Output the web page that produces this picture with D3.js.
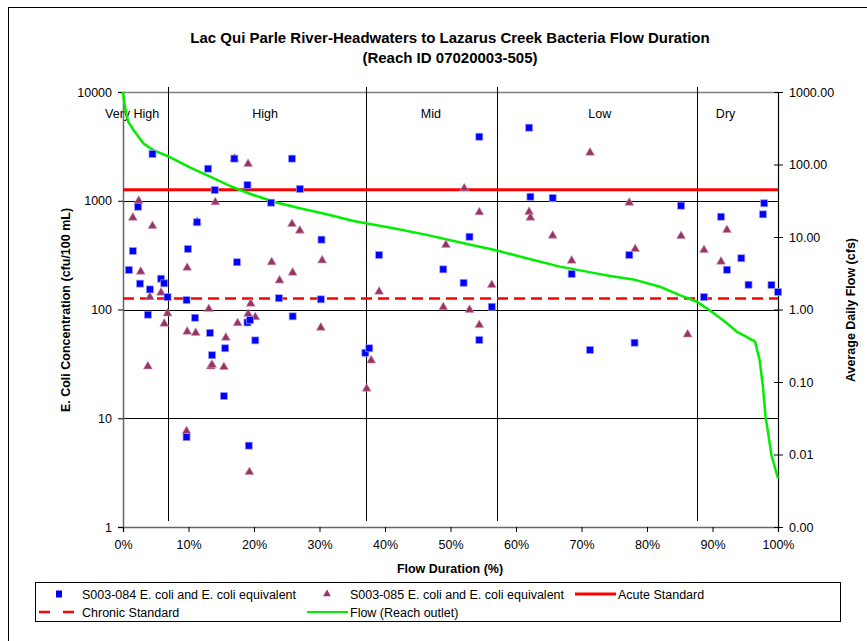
<!DOCTYPE html>
<html><head><meta charset="utf-8">
<script src="https://cdn.jsdelivr.net/npm/d3@7"></script>
<style>
body{margin:0;background:#fff;}
svg text{font-family:"Liberation Sans",Arial,sans-serif;fill:#000;}
</style></head>
<body><svg id="chart" width="867" height="641"></svg>
<script>
// ---------- DATA ----------
const titleLines = ["Lac Qui Parle River-Headwaters to Lazarus Creek Bacteria Flow Duration", "(Reach ID 07020003-505)"];
const leftTicks = [1, 10, 100, 1000, 10000];
const rightTicks = [0.001, 0.01, 0.1, 1, 10, 100, 1000];
const xTicks = [0, 10, 20, 30, 40, 50, 60, 70, 80, 90, 100];
const zoneBounds = [6.8, 37.1, 57.1, 87.6];
const zoneNames = ["Very High", "High", "Mid", "Low", "Dry"];
const zoneLabelAt = [1.4, 21.7, 47.0, 72.8, 92.0];
const acuteStd = 1260;
const chronicStd = 126;

// S003-084 [flow duration %, E. coli cfu/100mL]
const site084 = [
 [0.9,231],[1.5,345],[2.3,881],[2.6,173],[3.8,89.6],[4.1,153],[4.5,2690],[5.8,192],[6.3,174],[6.8,130],
 [9.7,122],[9.7,6.7],[9.9,360],[11.0,84],[11.3,634],[13.0,1972],[13.3,61],[13.6,38],[14.0,1256],[15.4,16],
 [15.6,44],[17.0,2440],[17.4,272],[19.0,1396],[19.0,76],[19.2,5.6],[19.4,80],[20.2,52],[22.6,960],[23.8,127],
 [25.8,2440],[25.9,86.5],[27.0,1282],[30.2,124],[30.3,439],[37.0,40],[37.6,44],[39.1,317],[48.9,234],[52.0,176],
 [52.9,467],[54.4,3880],[54.4,52.5],[56.3,106],[62.0,4700],[62.2,1089],[65.6,1060],[68.5,212],[71.3,42.5],[77.3,317],
 [78.1,49.5],[85.2,901],[88.7,130],[91.3,713],[92.2,232],[94.4,296],[95.5,169],[97.7,750],[97.9,948],[99.0,168],[100,145]
];
// S003-085 [flow duration %, E. coli cfu/100mL]
const site085 = [
 [1.5,698],[2.4,1000],[2.7,223],[3.8,30],[4.1,130],[4.5,586],[5.8,143],[6.3,74],[6.8,92],[9.7,7.6],
 [9.8,242],[9.8,62.5],[11.1,61],[11.3,641],[13.1,101],[13.4,30],[13.6,31],[14.1,968],[15.4,29.6],[15.7,55],
 [17.0,2440],[17.5,75],[19.1,2180],[19.1,91],[19.3,3.2],[19.5,113],[20.2,85],[22.7,272],[23.9,185],[25.8,611],
 [25.9,218],[27.0,531],[30.2,68],[30.4,283],[37.2,18.7],[37.9,34],[39.1,146],[48.9,105],[49.3,392],[52.1,1300],
 [52.9,99],[54.4,783],[54.4,72],[56.3,168],[62.0,790],[62.2,698],[65.6,477],[68.5,281],[71.3,2770],[77.3,959],
 [78.2,360],[85.2,474],[86.2,59],[88.7,352],[91.3,275],[92.2,538]
];
// Flow (Reach outlet) [flow duration %, cfs]
const flow = [
 [0,1000],[0.2,700],[0.5,508],[0.8,389],[1.6,299],[3.1,196],[4.6,158],[6.8,131],[10.2,91],[13.3,68],
 [16.8,48.5],[19.9,38],[23.0,30.7],[27.0,24.9],[31.1,20.6],[35.2,16.6],[37.7,15.1],[41.3,13.2],[46.4,10.7],[51.5,8.4],
 [57.1,6.5],[61.6,5.1],[66.7,3.9],[71.8,3.2],[74.4,2.9],[77.9,2.6],[82.0,2.06],[85.0,1.58],[87.6,1.28],[90.1,0.90],
 [92.2,0.645],[93.7,0.494],[95.2,0.42],[96.5,0.36],[97.2,0.20],[97.7,0.086],[98.1,0.033],[98.5,0.0196],[99.0,0.0098],[100,0.0047]
];

// ---------- CHART ----------
const svg = d3.select("#chart");
const L = 123, R = 778, T = 92, B = 527;
const x = d3.scaleLinear().domain([0, 100]).range([L, R]);
const y = d3.scaleLog().domain([1, 10000]).range([B, T]);
const y2 = d3.scaleLog().domain([0.001, 1000]).range([B, T]);

// outer frame
svg.append("rect").attr("x", 8.5).attr("y", 7.5).attr("width", 870).attr("height", 650)
  .attr("fill", "none").attr("stroke", "#000").attr("stroke-width", 1);
// cut remnants at top
svg.append("text").attr("x", 292).attr("y", -3).attr("font-size", 15).text("(");
svg.append("text").attr("x", 614).attr("y", -3).attr("font-size", 15).text(")");

// title
svg.append("text").attr("x", 450).attr("y", 43).attr("text-anchor", "middle")
  .attr("font-size", 15).attr("font-weight", "bold").text(titleLines[0]);
svg.append("text").attr("x", 450).attr("y", 63).attr("text-anchor", "middle")
  .attr("font-size", 15).attr("font-weight", "bold").text(titleLines[1]);

// gridlines
svg.append("g").selectAll("line").data(leftTicks.filter(d => d > 1 && d < 10000)).join("line")
  .attr("x1", L).attr("x2", R).attr("y1", d => Math.round(y(d)) + 0.5).attr("y2", d => Math.round(y(d)) + 0.5)
  .attr("stroke", "#000").attr("stroke-width", 1);
svg.append("line").attr("x1", L).attr("x2", R).attr("y1", T + 0.5).attr("y2", T + 0.5)
  .attr("stroke", "#808080").attr("stroke-width", 1.5);

// zone dividers
svg.append("g").selectAll("line").data(zoneBounds).join("line")
  .attr("x1", d => Math.round(x(d)) + 0.5).attr("x2", d => Math.round(x(d)) + 0.5)
  .attr("y1", 87).attr("y2", 521).attr("stroke", "#000").attr("stroke-width", 1);
svg.append("g").selectAll("text").data(zoneNames).join("text")
  .attr("x", (d, i) => x(zoneLabelAt[i])).attr("y", 118).attr("font-size", 12.5)
  .attr("text-anchor", "middle").text(d => d);

// left axis
const gl = svg.append("g").attr("transform", `translate(${L},0)`)
  .call(d3.axisLeft(y).tickValues(leftTicks).tickFormat(d3.format("d")).tickSize(5).tickPadding(6));
gl.select(".domain").attr("stroke", "#666").attr("stroke-width", 1.5);
gl.selectAll("text").attr("font-size", 12.5).attr("font-family", "Liberation Sans, Arial, sans-serif");

// bottom axis
const gb = svg.append("g").attr("transform", `translate(0,${B})`)
  .call(d3.axisBottom(x).tickValues(xTicks).tickFormat(d => d + "%").tickSize(5).tickPadding(8));
gb.select(".domain").attr("stroke", "#666").attr("stroke-width", 1.5);
gb.selectAll("text").attr("font-size", 12.5).attr("font-family", "Liberation Sans, Arial, sans-serif");

// right axis
const gr = svg.append("g").attr("transform", `translate(${R},0)`)
  .call(d3.axisRight(y2).tickValues(rightTicks).tickFormat(d3.format(".2f")).tickSize(5).tickPadding(6));
gr.select(".domain").attr("stroke", "#000").attr("stroke-width", 1.2);
gr.selectAll(".tick line").attr("x1", -4);
gr.selectAll("text").attr("font-size", 12.5).attr("font-family", "Liberation Sans, Arial, sans-serif");

// axis titles
svg.append("text").attr("transform", "translate(70,310) rotate(-90)").attr("text-anchor", "middle")
  .attr("font-size", 12.5).attr("font-weight", "bold").text("E. Coli Concentration (cfu/100 mL)");
svg.append("text").attr("transform", "translate(855,310) rotate(-90)").attr("text-anchor", "middle")
  .attr("font-size", 12.5).attr("font-weight", "bold").text("Average Daily Flow (cfs)");
svg.append("text").attr("x", 450).attr("y", 573).attr("text-anchor", "middle")
  .attr("font-size", 12.5).attr("font-weight", "bold").text("Flow Duration (%)");

// standards
svg.append("line").attr("x1", L).attr("x2", R).attr("y1", y(acuteStd)).attr("y2", y(acuteStd))
  .attr("stroke", "#ff0000").attr("stroke-width", 3);
svg.append("line").attr("x1", L).attr("x2", R).attr("y1", y(chronicStd)).attr("y2", y(chronicStd))
  .attr("stroke", "#ff0000").attr("stroke-width", 2.5).attr("stroke-dasharray", "11,6");

// flow line
svg.append("path").datum(flow)
  .attr("d", d3.line().x(d => x(d[0])).y(d => y2(d[1])))
  .attr("fill", "none").attr("stroke", "#00ee00").attr("stroke-width", 2.5);

// markers
const tri = d3.symbol().type(d3.symbolTriangle).size(34);
svg.append("g").selectAll("path").data(site085).join("path")
  .attr("d", tri).attr("transform", d => `translate(${x(d[0])},${y(d[1])})`)
  .attr("fill", "#993366").attr("stroke", "#c899b0").attr("stroke-width", 0.6);
svg.append("g").selectAll("rect").data(site084).join("rect")
  .attr("x", d => x(d[0]) - 3.5).attr("y", d => y(d[1]) - 3.5).attr("width", 7).attr("height", 7)
  .attr("fill", "#0000ff").attr("stroke", "#9999ff").attr("stroke-width", 0.7);

// legend
const lg = svg.append("g");
lg.append("rect").attr("x", 35.5).attr("y", 582.5).attr("width", 805).attr("height", 39)
  .attr("fill", "#fff").attr("stroke", "#000").attr("stroke-width", 1);
const r1 = 594, r2 = 612;
lg.append("rect").attr("x", 56).attr("y", r1 - 3.5).attr("width", 6).attr("height", 7).attr("fill", "#0000ff");
lg.append("text").attr("x", 82).attr("y", r1 + 4.5).attr("font-size", 12.5).text("S003-084 E. coli and E. coli equivalent");
lg.append("path").attr("d", tri.size(26)).attr("transform", `translate(327,${r1})`).attr("fill", "#993366");
lg.append("text").attr("x", 350).attr("y", r1 + 4.5).attr("font-size", 12.5).text("S003-085 E. coli and E. coli equivalent");
lg.append("line").attr("x1", 575).attr("x2", 616).attr("y1", r1).attr("y2", r1).attr("stroke", "#ff0000").attr("stroke-width", 3);
lg.append("text").attr("x", 618).attr("y", r1 + 4.5).attr("font-size", 12.5).text("Acute Standard");
lg.append("line").attr("x1", 39).attr("x2", 74).attr("y1", r2).attr("y2", r2).attr("stroke", "#ff0000").attr("stroke-width", 2.5).attr("stroke-dasharray", "11,13");
lg.append("text").attr("x", 82).attr("y", r2 + 4.5).attr("font-size", 12.5).text("Chronic Standard");
lg.append("line").attr("x1", 307).attr("x2", 348).attr("y1", r2).attr("y2", r2).attr("stroke", "#00ee00").attr("stroke-width", 2);
lg.append("text").attr("x", 350).attr("y", r2 + 4.5).attr("font-size", 12.5).text("Flow (Reach outlet)");
</script></body></html>
